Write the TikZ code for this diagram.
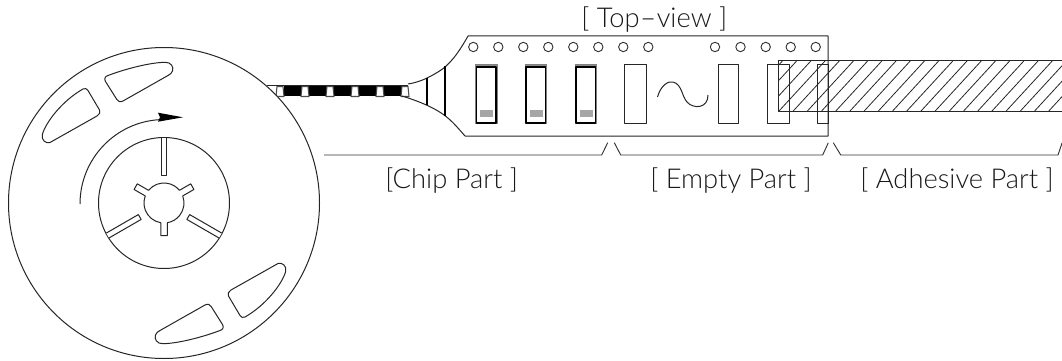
\documentclass[tikz,border=0pt]{standalone}
\usepackage{fontspec}
\setmainfont{Lato Light}
\tikzset{
  ln/.style={line width=0.75pt,draw=black!85},
  lbl/.style={inner sep=0pt,anchor=base west,text=black!90,font=\fontsize{20.5pt}{24pt}\selectfont},
  brk/.style={line width=0.7pt,draw=black!80},
  hole/.style={line width=0.7pt,draw=black!80},
}
\begin{document}
\begin{tikzpicture}[x=0.75pt,y=0.75pt,yscale=-1,line join=round]
\useasboundingbox (0,0) rectangle (1062,360);
% tape strip
\fill[black] (284,85) rectangle (403,96);
\foreach \nx in {277,302,327,352,377,402}{
  \filldraw[fill=white,draw=black!70,line width=0.8pt] (\nx-1,96.5) -- (\nx,86.5) -- (\nx+6,86.5) -- (\nx+7,96.5) -- cycle;
}
\draw[ln] (267,85) -- (408,85);
% reel
\coordinate (C) at (164,203);
\filldraw[ln,fill=white] (C) circle[radius=155.5];
\draw[ln] (C) circle[radius=65.5];
\begin{scope}[shift={(C)}]
  \foreach \a in {270,30,150}{
    \begin{scope}[rotate=\a]
      \draw[ln,fill=white] (65,-2.8) -- (28,-2.8) -- (28,2.8) -- (65,2.8);
    \end{scope}
  }
  \foreach \a in {90,210,330}{
    \begin{scope}[rotate=\a]
      \draw[ln] (19.73,-3.25) -- (32.7,-3.25) -- (32.7,3.25) -- (19.73,3.25) arc[start angle=9.35,end angle=110.65,radius=20];
    \end{scope}
  }
\end{scope}
% windows
\foreach \r in {0,180}{
  \begin{scope}[rotate around={\r:(C)}]
    \draw[ln] (108,75.5) .. controls (125,69) and (150,62.5) .. (165,62.3) .. controls (171,62) and (174,67) .. (172.5,71) .. controls (172,73) and (170,74.5) .. (168,75.5) -- (123,101) .. controls (120,102.5) and (118,101.5) .. (116.7,99.3) -- (105.5,81.5) .. controls (104,78.5) and (105,76.5) .. (108,75.5) -- cycle;
    \draw[ln] (83,89) .. controls (85,88) and (87,88.5) .. (88,90.5) -- (99.5,110) .. controls (100.5,112.5) and (99.5,114.5) .. (97,116) -- (50,142.5) .. controls (46,144) and (41,140) .. (42.3,134.5) .. controls (46,122) and (62,101) .. (83,89) -- cycle;
  \end{scope}
}
% rotation arrow
\draw[ln] (80,204) arc[start angle=180,end angle=267,radius=84.5];
\fill[black] (158,112.7) -- (183,117.3) -- (158,121.7) -- (160,117.3) -- cycle;
% tape flare
\draw[ln] (408,84) .. controls (420,82) and (428,78) .. (438,72) .. controls (450,65) and (459,52) .. (468,36) -- (828,36) -- (828,136) -- (465,136) .. controls (457,127) and (450,118) .. (438,111) .. controls (428,105) and (415,100) .. (402,96);
\draw[line width=1.1pt] (427,78) -- (427,105);
\draw[line width=1.1pt] (445,66) -- (445,116);
% sprocket holes
\foreach \hx in {473.3,498.3,523.3,548.3,573.3,598.3,623.3,648.3,715,740.5,765.7,790.7,815.7}{
  \draw[hole] (\hx,47) circle[radius=4.7];
}
% chip pockets
\foreach \cx in {475.5,525,575}{
  \fill[black!45] (\cx,64.3) rectangle (\cx+21.5,67.5);
  \draw[draw=black!50,line width=0.7pt] (\cx,64.5) rectangle (\cx+21.5,123.3);
  \draw[line width=0.8pt] (\cx+1,67) rectangle (\cx+20.5,123);
  \fill[black!35] (\cx+4.5,110.3) rectangle (\cx+17.5,117.3);
}
% empty pockets
\draw[ln] (624.3,64.5) rectangle (646.7,123.3);
\draw[ln] (718,64.5) rectangle (738.3,123.3);
\draw[ln] (767.7,64.5) rectangle (789,123.3);
\draw[ln] (817.5,64.5) rectangle (828,123.3);
% break mark
\draw[ln] (657.5,97) .. controls (661,85) and (668,81) .. (673,82) .. controls (682,84) and (682,97) .. (687,102) .. controls (693,109) and (708,109) .. (708,95);
% adhesive
\begin{scope}
  \clip (778.5,61) rectangle (1062,111);
  \foreach \i in {0,...,22}{
    \draw[line width=0.6pt,black!85] ({779+14.2*\i},111) -- ({779+14.2*\i+46},61);
    \draw[line width=0.6pt,black!85] ({779-14.2*(\i+1)},111) -- ({779-14.2*(\i+1)+46},61);
  }
\end{scope}
\draw[ln] (1062,61) -- (778.5,61) -- (778.5,111) -- (1062,111);
% brackets
\draw[brk] (324,155) -- (601.7,155) -- (607.7,142.7);
\draw[brk] (614.3,142.7) -- (620.7,155) -- (822.7,155) -- (828.3,142.7);
\draw[brk] (833.3,142.7) -- (840.7,155) -- (1058,155) -- (1062,143);
% labels
\node[lbl] (top) at (581,28) {[ Top\scalebox{1.7}[1]{-}view ]};
\node[lbl] (chip) at (385,188) {[Chip Part ]};
\node[lbl] (empty) at (650,188) {[ Empty Part ]};
\node[lbl] (adh) at (860,188) {[ Adhesive Part ]};
\end{tikzpicture}
\end{document}
